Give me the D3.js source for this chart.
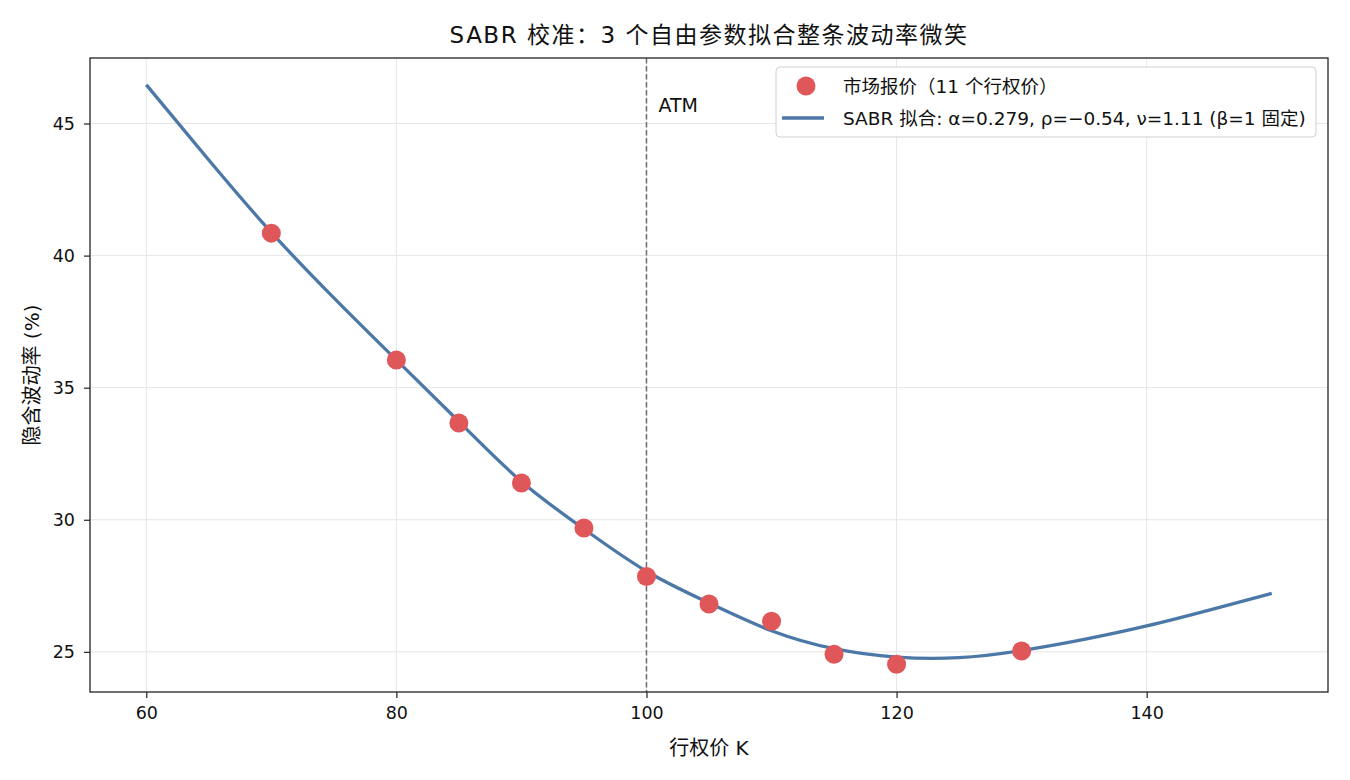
<!DOCTYPE html>
<html>
<head>
<meta charset="utf-8">
<script src="https://cdn.jsdelivr.net/npm/d3@7"></script>
<style>
  body { margin: 0; background: #fff; }
  svg text { font-family: "DejaVu Sans", "Noto Sans CJK SC", sans-serif; fill: #111; }
</style>
</head>
<body>
<div class="viz"></div>
<script>
// market quotes (strike, implied vol %)
const strikes = [70, 80, 85, 90, 95, 100, 105, 110, 115, 120, 130];
const marketVols = [40.85, 36.05, 33.66, 31.39, 29.69, 27.85, 26.81, 26.16, 24.91, 24.53, 25.03];

// fitted SABR smile
const curveStrikes = [60, 65, 70, 75, 80, 85, 90, 95, 100, 105, 110, 115, 120, 125, 130, 135, 140, 145, 150];
const curveVols = [46.47, 43.62, 40.88, 38.40, 36.05, 33.72, 31.45, 29.65, 28.05, 26.85, 25.80, 25.12, 24.80, 24.78, 25.05, 25.47, 25.98, 26.58, 27.21];

const xTicks = [60, 80, 100, 120, 140];
const yTicks = [25, 30, 35, 40, 45];
const atmStrike = 100;

const titleText = "SABR 校准：3 个自由参数拟合整条波动率微笑";
const xLabel = "行权价 K";
const yLabel = "隐含波动率 (%)";
const legendMarket = "市场报价（11 个行权价）";
const legendFit = "SABR 拟合: α=0.279, ρ=−0.54, ν=1.11 (β=1 固定)";

var W = 1350, H = 780,
    margin = { top: 58, right: 22, bottom: 88, left: 90 },
    width = W - margin.left - margin.right,
    height = H - margin.top - margin.bottom;

var svg = d3.select(".viz").append("svg")
    .attr("width", W)
    .attr("height", H);

var x = d3.scaleLinear().domain([55.5, 154.5]).range([0, width]);
var y = d3.scaleLinear().domain([23.48, 47.48]).range([height, 0]);

var g = svg.append("g")
    .attr("transform", `translate(${margin.left},${margin.top})`);

// grid
g.append("g").selectAll("line")
    .data(xTicks).enter().append("line")
    .attr("x1", d => x(d)).attr("x2", d => x(d))
    .attr("y1", 0).attr("y2", height)
    .attr("stroke", "#e6e6e6").attr("stroke-width", 1);
g.append("g").selectAll("line")
    .data(yTicks).enter().append("line")
    .attr("y1", d => y(d)).attr("y2", d => y(d))
    .attr("x1", 0).attr("x2", width)
    .attr("stroke", "#e6e6e6").attr("stroke-width", 1);

// axes
var xAxis = g.append("g")
    .attr("transform", `translate(0,${height})`)
    .call(d3.axisBottom(x).tickValues(xTicks).tickSize(6).tickPadding(9));
var yAxis = g.append("g")
    .call(d3.axisLeft(y).tickValues(yTicks).tickSize(6).tickPadding(9));
[xAxis, yAxis].forEach(a => {
    a.select(".domain").remove();
    a.selectAll("line").attr("stroke", "#222").attr("stroke-width", 1.2);
    a.selectAll("text").style("font-size", "17.5px").attr("fill", "#111");
});

// ATM line
g.append("line")
    .attr("x1", x(atmStrike)).attr("x2", x(atmStrike))
    .attr("y1", 0).attr("y2", height)
    .attr("stroke", "#6e6e6e").attr("stroke-width", 1.5)
    .attr("stroke-dasharray", "5.5,2.5");
g.append("text")
    .attr("x", x(atmStrike) + 12).attr("y", 54)
    .style("font-size", "19px")
    .text("ATM");

// fitted curve
var line = d3.line()
    .x((d, i) => x(curveStrikes[i]))
    .y(d => y(d))
    .curve(d3.curveNatural);
g.append("path")
    .datum(curveVols)
    .attr("d", line)
    .attr("fill", "none")
    .attr("stroke", "#4c78a8")
    .attr("stroke-width", 3.3);

// market points
g.append("g").selectAll("circle")
    .data(marketVols).enter().append("circle")
    .attr("cx", (d, i) => x(strikes[i]))
    .attr("cy", d => y(d))
    .attr("r", 9.5)
    .attr("fill", "#e05759");

// frame
g.append("rect")
    .attr("width", width).attr("height", height)
    .attr("fill", "none").attr("stroke", "#222").attr("stroke-width", 1.3);

// legend
var lg = svg.append("g").attr("transform", "translate(776,67)");
lg.append("rect")
    .attr("width", 540).attr("height", 70)
    .attr("rx", 4)
    .attr("fill", "#fff").attr("fill-opacity", 0.85)
    .attr("stroke", "#d0d0d0");
lg.append("circle")
    .attr("cx", 30).attr("cy", 19).attr("r", 9.5)
    .attr("fill", "#e05759");
lg.append("text")
    .attr("x", 67).attr("y", 26)
    .style("font-size", "18.5px")
    .text(legendMarket);
lg.append("line")
    .attr("x1", 6).attr("x2", 48).attr("y1", 51).attr("y2", 51)
    .attr("stroke", "#4c78a8").attr("stroke-width", 3.3);
lg.append("text")
    .attr("x", 67).attr("y", 58)
    .style("font-size", "18.5px")
    .text(legendFit);

// title and labels
svg.append("text")
    .attr("x", margin.left + width / 2).attr("y", 43)
    .attr("text-anchor", "middle")
    .style("font-size", "23px")
    .style("letter-spacing", "1.5px")
    .text(titleText);
svg.append("text")
    .attr("x", margin.left + width / 2).attr("y", 755)
    .attr("text-anchor", "middle")
    .style("font-size", "20px")
    .text(xLabel);
svg.append("text")
    .attr("transform", `translate(39,${margin.top + height / 2}) rotate(-90)`)
    .attr("text-anchor", "middle")
    .style("font-size", "20px")
    .text(yLabel);
</script>
</body>
</html>
